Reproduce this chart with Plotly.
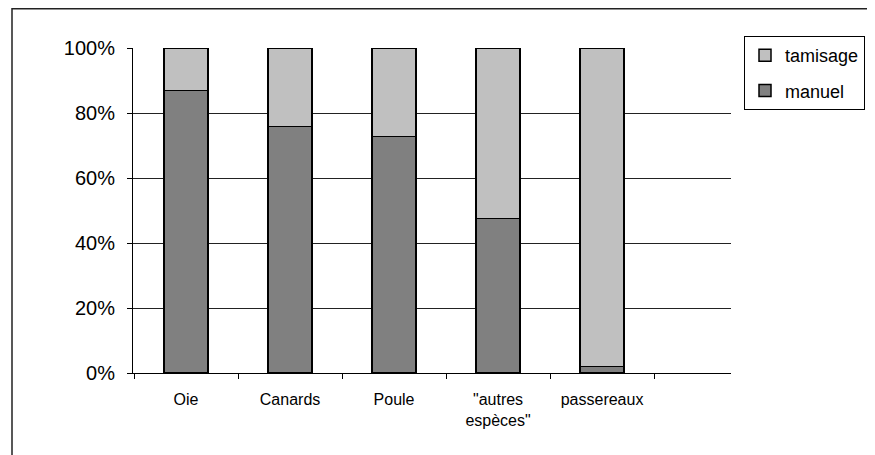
import plotly.graph_objects as go

categories = ["Oie", "Canards", "Poule", "\"autres<br>espèces\"", "passereaux"]
manuel = [86.9, 75.8, 72.7, 47.6, 2.0]
tamisage = [13.1, 24.2, 27.3, 52.4, 98.0]
y_ticks = [0, 20, 40, 60, 80, 100]
y_tick_labels = ["0%", "20%", "40%", "60%", "80%", "100%"]

FONT = "Liberation Sans, Arial, sans-serif"

# The page body has an 8px margin, so the figure is sized to the visible area.
W, H = 867, 447
L, T = 125, 40
R = W - 723
B = H - 365

fig = go.Figure()
fig.add_trace(go.Bar(
    name="manuel", x=categories, y=manuel, width=0.423,
    marker=dict(color="#808080", line=dict(color="#000000", width=1.5)),
    legendgroup="m", legendrank=2,
))
fig.add_trace(go.Bar(
    name="tamisage", x=categories, y=tamisage, width=0.423,
    marker=dict(color="#c0c0c0", line=dict(color="#000000", width=1.5)),
    legendgroup="t", legendrank=1,
))

fig.update_layout(
    width=W, height=H,
    barmode="stack",
    paper_bgcolor="white", plot_bgcolor="white",
    margin=dict(l=L, r=R, t=T, b=B, autoexpand=False),
    font=dict(family=FONT, color="#000000"),
    showlegend=True,
    legend=dict(
        x=(736 - L) / 598, y=(365 - 28) / 325, xanchor="left", yanchor="top",
        traceorder="grouped", tracegroupgap=9,
        bordercolor="#000000", borderwidth=1, bgcolor="white",
        font=dict(family=FONT, size=18, color="#000000"),
    ),
    xaxis=dict(
        type="category", range=[-0.51, 5.24],
        tickson="boundaries", ticks="outside", ticklen=5, tickcolor="#000000",
        showline=True, linecolor="#000000", linewidth=1,
        showgrid=False, tickfont=dict(size=16, color="#000000"),
        ticklabelstandoff=12,
    ),
    yaxis=dict(
        range=[0, 100], tickvals=y_ticks, ticktext=y_tick_labels,
        ticks="outside", ticklen=5, tickcolor="#000000",
        showline=True, linecolor="#000000", linewidth=1,
        showgrid=True, gridcolor="#222222", gridwidth=1,
        tickfont=dict(size=20, color="#000000"),
        ticklabelstandoff=8, zeroline=False,
    ),
    shapes=[dict(
        type="rect", xref="paper", yref="paper",
        x0=(4 - L) / 598, x1=2.0, y0=-1.0, y1=(365 - 0.75) / 325,
        line=dict(color="#222222", width=1.5), layer="below",
    )],
)

fig.write_html("out.html")
